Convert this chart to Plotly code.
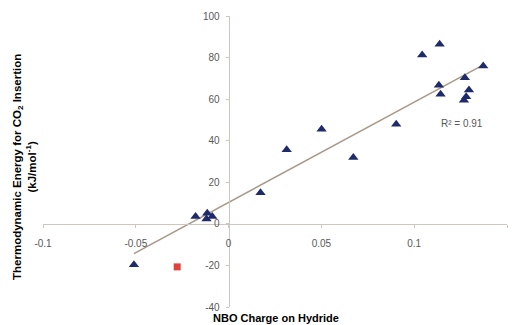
import numpy as np
import plotly.graph_objects as go

# Blue series: NBO charge on hydride vs thermodynamic energy
blue_x = [-0.051, -0.0178, -0.0115, -0.0119, -0.0088, 0.0172, 0.0313, 0.0501,
          0.0672, 0.0903, 0.1043, 0.1137, 0.1133, 0.1142, 0.1372, 0.1273,
          0.1295, 0.1280, 0.1268]
blue_y = [-19.7, 3.5, 5.1, 2.3, 3.5, 15.0, 35.6, 45.5,
          31.9, 47.9, 81.2, 86.4, 66.7, 62.4, 76.0, 70.3,
          64.4, 61.2, 59.5]

# Red outlier
red_x = [-0.0277]
red_y = [-20.7]

x_ticks = [-0.1, -0.05, 0, 0.05, 0.1, 0.15]
x_tick_labels = ["-0.1", "-0.05", "0", "0.05", "0.1", "0.15"]
y_ticks = [-40, -20, 0, 20, 40, 60, 80, 100]
y_tick_labels = ["-40", "-20", "0", "20", "40", "60", "80", "100"]
r2_text = "R² = 0.91"

# Linear trendline over the blue series
slope, intercept = np.polyfit(blue_x, blue_y, 1)
trend_x = [min(blue_x), max(blue_x)]
trend_y = [slope * v + intercept for v in trend_x]

fig = go.Figure()
fig.add_trace(go.Scatter(x=trend_x, y=trend_y, mode="lines",
                         line=dict(color="#A89888", width=1.5),
                         hoverinfo="skip", showlegend=False))
fig.add_trace(go.Scatter(x=blue_x, y=blue_y, mode="markers",
                         marker=dict(symbol="triangle-up", size=9, color="#1F2A6B"),
                         showlegend=False))
fig.add_trace(go.Scatter(x=red_x, y=red_y, mode="markers",
                         marker=dict(symbol="square", size=7, color="#E0413C"),
                         showlegend=False))

axis_col = "#CFC6BE"
tick_font = dict(family="Liberation Sans, Arial, sans-serif", size=10, color="#595959")

fig.update_layout(
    width=513, height=325,
    margin=dict(l=43, r=6, t=16, b=18),
    plot_bgcolor="white", paper_bgcolor="white",
    xaxis=dict(range=[-0.1, 0.15], tickvals=x_ticks, ticktext=x_tick_labels,
               showgrid=False, zeroline=False, showline=True, linecolor=axis_col,
               linewidth=1, ticks="outside", ticklen=3, tickcolor=axis_col,
               anchor="free", position=40/140, tickfont=tick_font,
               ticklabelstandoff=7),
    yaxis=dict(range=[-40, 100], tickvals=y_ticks, ticktext=y_tick_labels,
               showgrid=False, zeroline=False, showline=True, linecolor=axis_col,
               linewidth=1, ticks="outside", ticklen=3, tickcolor=axis_col,
               anchor="free", position=0.4, tickfont=tick_font,
               ticklabelstandoff=4),
    annotations=[
        dict(text=r2_text, x=0.1259, y=48.2, xref="x", yref="y", showarrow=False,
             font=dict(family="Liberation Sans, Arial, sans-serif", size=10, color="#595959")),
        dict(text="<b>NBO Charge on Hydride</b>", x=(276-43)/464, y=(307-318)/291,
             xref="paper", yref="paper", showarrow=False, xanchor="center", yanchor="middle",
             font=dict(family="Liberation Sans, Arial, sans-serif", size=11, color="#000000")),
        dict(text="<b>Thermodynamic Energy for CO<sub>2</sub> Insertion<br>(kJ/mol<sup>-1</sup>)</b>",
             x=(25-43)/464, y=(307-167)/291, xref="paper", yref="paper", showarrow=False,
             textangle=-90, xanchor="center", yanchor="middle",
             font=dict(family="Liberation Sans, Arial, sans-serif", size=11.5, color="#000000")),
    ],
)

fig.write_html("out.html", config={"displayModeBar": False},
               post_script="document.body.style.margin='0';")
